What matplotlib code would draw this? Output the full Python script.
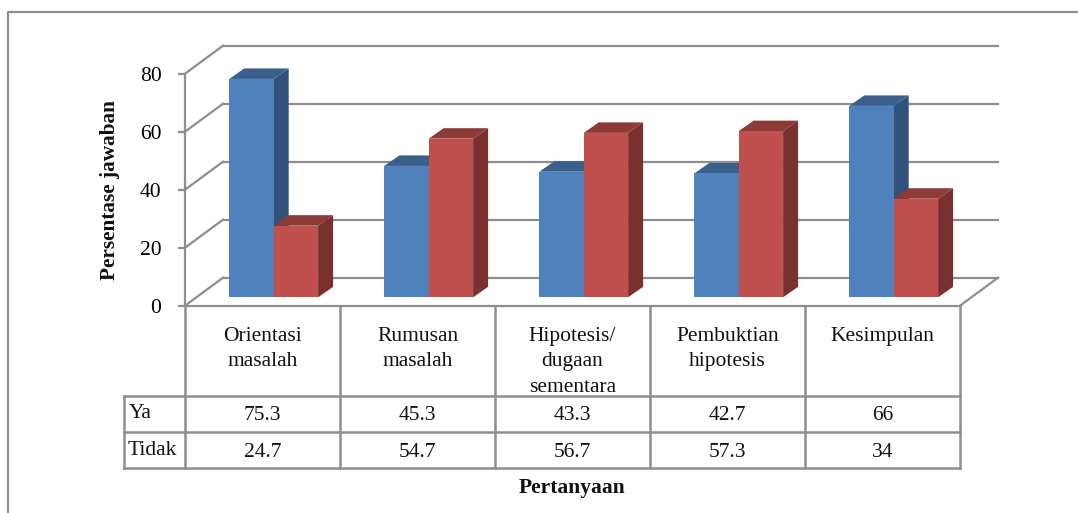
import matplotlib
matplotlib.use('Agg')
import matplotlib.pyplot as plt
from matplotlib.patches import Polygon

categories = ['Orientasi\nmasalah', 'Rumusan\nmasalah', 'Hipotesis/\ndugaan\nsementara',
              'Pembuktian\nhipotesis', 'Kesimpulan']
ya = [75.3, 45.3, 43.3, 42.7, 66]
tidak = [24.7, 54.7, 56.7, 57.3, 34]
ya_labels = ['75.3', '45.3', '43.3', '42.7', '66']
tidak_labels = ['24.7', '54.7', '56.7', '57.3', '34']
yticks = [0, 20, 40, 60, 80]

plt.rcParams['font.family'] = ['Liberation Serif', 'DejaVu Serif']
GRAY = '#8e8e8e'
FS = 15.5

fig = plt.figure(figsize=(10.78, 5.13), dpi=100)

# pixel layer for the outer frame and the data table
bg = fig.add_axes([0, 0, 1, 1])
bg.set_xlim(0, 1078)
bg.set_ylim(513, 0)
bg.axis('off')

# plot box in pixels
left, right, top, bottom = 185, 960, 73.7, 305.7
ax = fig.add_axes([left / 1078, 1 - bottom / 513, (right - left) / 1078, (bottom - top) / 513])
ax.set_xlim(0, 5)
ax.set_ylim(0, 80)
ax.patch.set_alpha(0)
px_x = 5 / (right - left)
px_y = 80 / (bottom - top)

# depth of the back wall, of the bars and the bar position, in data units
wall_dx, wall_dy = 38 * px_x, 28 * px_y
bar_dx, bar_dy = 15 * px_x, 10.5 * px_y
shift_x, shift_y = 11.2 * px_x, 8.4 * px_y
bar_w = 44.4 * px_x

for t in yticks:
    ax.plot([0, wall_dx], [t, t + wall_dy], color=GRAY, lw=1.6, clip_on=False, zorder=1)
    ax.plot([wall_dx, 5 + wall_dx], [t + wall_dy, t + wall_dy], color=GRAY, lw=1.6, clip_on=False, zorder=1)
ax.plot([5, 5 + wall_dx], [0, wall_dy], color=GRAY, lw=1.6, clip_on=False, zorder=1)


def bar3d(x, h, front, side, roof):
    y0 = shift_y
    y1 = h + shift_y
    x1 = x + bar_w
    ax.add_patch(Polygon([(x1, y0), (x1 + bar_dx, y0 + bar_dy), (x1 + bar_dx, y1 + bar_dy), (x1, y1)],
                         fc=side, ec='none', clip_on=False, zorder=3))
    ax.add_patch(Polygon([(x, y1), (x + bar_dx, y1 + bar_dy), (x1 + bar_dx, y1 + bar_dy), (x1, y1)],
                         fc=roof, ec='none', clip_on=False, zorder=3))
    ax.add_patch(Polygon([(x, y0), (x1, y0), (x1, y1), (x, y1)],
                         fc=front, ec='none', clip_on=False, zorder=3))


for i in range(len(categories)):
    c = i + 0.5 + shift_x
    bar3d(c - bar_w, ya[i], '#4f81bd', '#31527a', '#3a5f8b')
    bar3d(c, tidak[i], '#c0504d', '#7a302e', '#8e3a38')

ax.set_yticks(yticks)
ax.set_xticks([])
ax.tick_params(axis='y', length=5, width=1.6, color=GRAY, labelsize=FS, pad=12)
for s in ['top', 'right']:
    ax.spines[s].set_visible(False)
for s in ['left', 'bottom']:
    ax.spines[s].set_color(GRAY)
    ax.spines[s].set_linewidth(1.6)
    ax.spines[s].set_zorder(2)

# outer frame
bg.plot([8, 8, 1078], [513, 12, 12], color=GRAY, lw=1.6)

# table grid
row1, row2, row3 = 396, 432.3, 468.3
cell_w = (right - left) / len(categories)
col_x = [left + k * cell_w for k in range(len(categories) + 1)]
for x in col_x:
    bg.plot([x, x], [bottom, row3], color=GRAY, lw=1.8)
bg.plot([123.5, 123.5], [row1, row3], color=GRAY, lw=1.8)
for y in [row1, row2, row3]:
    bg.plot([123.5, right], [y, y], color=GRAY, lw=1.8)

for i, name in enumerate(categories):
    cx = left + (i + 0.5) * cell_w
    bg.text(cx, 327, name, ha='center', va='top', fontsize=FS, color='#111111', linespacing=1.46)
    bg.text(cx, 416, ya_labels[i], ha='center', va='center', fontsize=FS, color='#111111')
    bg.text(cx, 452.5, tidak_labels[i], ha='center', va='center', fontsize=FS, color='#111111')

bg.text(129, 414, 'Ya', ha='left', va='center', fontsize=FS, color='#111111')
bg.text(128, 450.5, 'Tidak', ha='left', va='center', fontsize=FS, color='#111111')

bg.text(572, 488, 'Pertanyaan', ha='center', va='center', fontsize=15.5, fontweight='bold', color='#111111')
bg.text(110, 190, 'Persentase jawaban', ha='center', va='center', rotation=90,
        fontsize=15.3, fontweight='bold', color='#111111')

fig.savefig('out.png', dpi=100)
